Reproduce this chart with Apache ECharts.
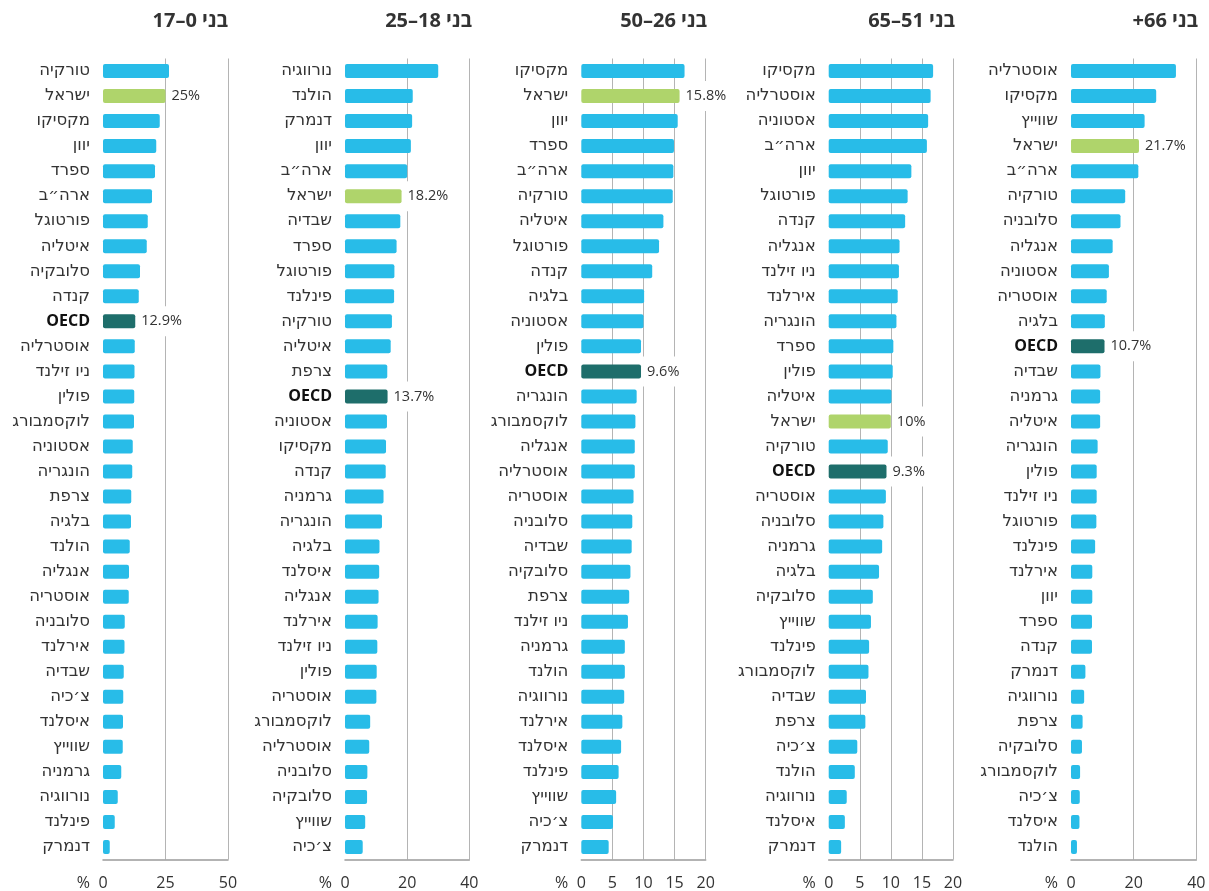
<!DOCTYPE html>
<html lang="he">
<head>
<meta charset="utf-8">
<script src="https://cdn.jsdelivr.net/npm/echarts@6/dist/echarts.min.js"></script>
<style>
html,body{margin:0;padding:0;background:#fff;}
#chart{width:1209px;height:891px;direction:rtl;}
</style>
</head>
<body>
<div id="chart" dir="rtl"></div>
<script>
// ---- Data ----
const titles = ['בני 0–17', 'בני 18–25', 'בני 26–50', 'בני 51–65', 'בני 66+'];

const cats0 = ['טורקיה','ישראל','מקסיקו','יוון','ספרד','ארה״ב','פורטוגל','איטליה','סלובקיה','קנדה','OECD','אוסטרליה','ניו זילנד','פולין','לוקסמבורג','אסטוניה','הונגריה','צרפת','בלגיה','הולנד','אנגליה','אוסטריה','סלובניה','אירלנד','שבדיה','צ׳כיה','איסלנד','שווייץ','גרמניה','נורווגיה','פינלנד','דנמרק'];
const vals0 = [26.4,25,22.7,21.3,20.8,19.6,17.9,17.5,14.8,14.3,12.9,12.7,12.6,12.5,12.4,11.9,11.7,11.3,11.2,10.7,10.4,10.3,8.7,8.6,8.3,8.1,8.0,7.9,7.3,5.9,4.7,2.7];

const cats1 = ['נורווגיה','הולנד','דנמרק','יוון','ארה״ב','ישראל','שבדיה','ספרד','פורטוגל','פינלנד','טורקיה','איטליה','צרפת','OECD','אסטוניה','מקסיקו','קנדה','גרמניה','הונגריה','בלגיה','איסלנד','אנגליה','אירלנד','ניו זילנד','פולין','אוסטריה','לוקסמבורג','אוסטרליה','סלובניה','סלובקיה','שווייץ','צ׳כיה'];
const vals1 = [30.0,21.8,21.6,21.2,20.0,18.2,17.8,16.6,15.9,15.8,15.1,14.7,13.6,13.7,13.5,13.2,13.1,12.4,11.9,11.1,11.0,10.8,10.5,10.4,10.2,10.1,8.1,7.8,7.2,7.1,6.5,5.7];

const cats2 = ['מקסיקו','ישראל','יוון','ספרד','ארה״ב','טורקיה','איטליה','פורטוגל','קנדה','בלגיה','אסטוניה','פולין','OECD','הונגריה','לוקסמבורג','אנגליה','אוסטרליה','אוסטריה','סלובניה','שבדיה','סלובקיה','צרפת','ניו זילנד','גרמניה','הולנד','נורווגיה','אירלנד','איסלנד','פינלנד','שווייץ','צ׳כיה','דנמרק'];
const vals2 = [16.6,15.8,15.5,14.9,14.8,14.7,13.2,12.5,11.4,10.1,10.0,9.6,9.6,8.9,8.7,8.6,8.6,8.4,8.2,8.1,7.9,7.7,7.5,7.0,7.0,6.9,6.6,6.4,6.0,5.6,5.1,4.4];

const cats3 = ['מקסיקו','אוסטרליה','אסטוניה','ארה״ב','יוון','פורטוגל','קנדה','אנגליה','ניו זילנד','אירלנד','הונגריה','ספרד','פולין','איטליה','ישראל','טורקיה','OECD','אוסטריה','סלובניה','גרמניה','בלגיה','סלובקיה','שווייץ','פינלנד','לוקסמבורג','שבדיה','צרפת','צ׳כיה','הולנד','נורווגיה','איסלנד','דנמרק'];
const vals3 = [16.8,16.4,16.0,15.8,13.3,12.7,12.3,11.4,11.3,11.1,10.9,10.4,10.3,10.1,10,9.5,9.3,9.2,8.8,8.6,8.1,7.1,6.8,6.5,6.4,6.0,5.9,4.6,4.2,2.9,2.6,2.0];

const cats4 = ['אוסטרליה','מקסיקו','שווייץ','ישראל','ארה״ב','טורקיה','סלובניה','אנגליה','אסטוניה','אוסטריה','בלגיה','OECD','שבדיה','גרמניה','איטליה','הונגריה','פולין','ניו זילנד','פורטוגל','פינלנד','אירלנד','יוון','ספרד','קנדה','דנמרק','נורווגיה','צרפת','סלובקיה','לוקסמבורג','צ׳כיה','איסלנד','הולנד'];
const vals4 = [33.5,27.2,23.5,21.7,21.5,17.3,15.8,13.3,12.1,11.4,10.8,10.7,9.4,9.3,9.3,8.5,8.2,8.2,8.1,7.7,6.8,6.8,6.7,6.7,4.6,4.2,3.7,3.5,2.9,2.8,2.7,1.9];

const axisMax = [50, 40, 20, 20, 40];
const axisInterval = [25, 20, 5, 5, 20];

// ---- Layout / style ----
const gridLeft = [103, 345, 581.3, 828.7, 1071];
const gridWidth = [125, 124.3, 124.4, 124.3, 125.3];
const titleRight = [981, 737, 502, 254, 11];

const BLUE = '#28BCE8', GREEN = '#AFD46B', TEAL = '#1E6E6B';
const FONT = '"Open Sans", "DejaVu Sans", sans-serif';
const FONT_HE = '"DejaVu Sans", "Open Sans", sans-serif';

const allCats = [cats0, cats1, cats2, cats3, cats4];
const allVals = [vals0, vals1, vals2, vals3, vals4];

const option = {
  backgroundColor: '#fff',
  animation: false,
  textStyle: { fontFamily: FONT },
  title: titles.map((t, i) => ({
    text: t,
    right: titleRight[i],
    top: 11,
    padding: 0,
    textStyle: { fontFamily: FONT, fontSize: 20, fontWeight: 'bold', color: '#333' }
  })),
  grid: gridLeft.map((l, i) => ({
    left: l, width: gridWidth[i], top: 58.5, height: 801,
    containLabel: false, outerBoundsMode: 'none'
  })),
  xAxis: gridLeft.map((l, i) => ({
    type: 'value', gridIndex: i, min: 0, max: axisMax[i], interval: axisInterval[i],
    name: '%', nameLocation: 'start', nameGap: 13,
    nameTextStyle: { fontFamily: FONT, fontSize: 16, color: '#333', verticalAlign: 'top', padding: [16, 0, 0, 0] },
    axisLine: { show: true, lineStyle: { color: '#9a9a9a', width: 1.5 } },
    axisTick: { show: false },
    axisLabel: { fontFamily: FONT, fontSize: 16, color: '#333', margin: 16 },
    splitLine: { show: true, showMinLine: false, lineStyle: { color: '#b4b4b4', width: 1 } }
  })),
  yAxis: allCats.map((c, i) => ({
    type: 'category', gridIndex: i, data: c, inverse: true,
    axisLine: { show: false }, axisTick: { show: false },
    axisLabel: {
      fontFamily: FONT_HE, fontSize: 16.5, color: '#333', margin: 13,
      formatter: v => v === 'OECD' ? '{b|OECD}' : v,
      rich: { b: { fontFamily: FONT, fontSize: 16, fontWeight: 'bold', color: '#111' } }
    }
  })),
  series: allVals.map((vals, i) => ({
    type: 'bar', xAxisIndex: i, yAxisIndex: i, barWidth: 14,
    data: vals.map((v, j) => {
      const name = allCats[i][j];
      const special = name === 'ישראל' || name === 'OECD';
      return {
        value: v,
        itemStyle: { color: name === 'ישראל' ? GREEN : (name === 'OECD' ? TEAL : BLUE), borderRadius: 2 },
        label: {
          show: special, position: 'right', distance: 2,
          formatter: p => p.value + '%',
          fontFamily: FONT, fontSize: 14.5, color: '#333',
          backgroundColor: '#fff', padding: [8, 4, 7, 4]
        }
      };
    })
  }))
};

const chart = echarts.init(document.getElementById('chart'), null, { renderer: 'canvas' });
chart.setOption(option);
</script>
</body>
</html>
